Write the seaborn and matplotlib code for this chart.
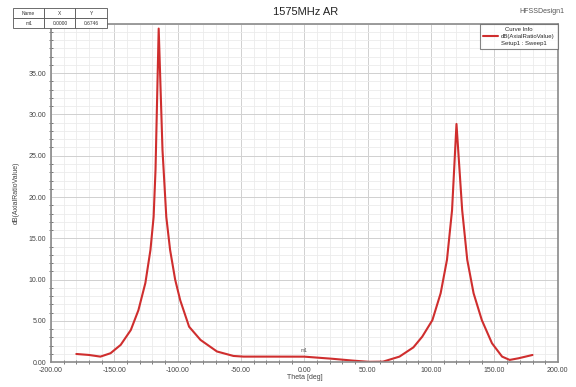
# 1575MHz axial ratio vs theta (HFSS style plot)

import matplotlib
matplotlib.use('Agg')
import matplotlib.pyplot as plt
from matplotlib.lines import Line2D
from matplotlib.ticker import MultipleLocator, FixedLocator, FormatStrFormatter
import pandas as pd
import seaborn as sns

# data
theta = [-180, -170, -161, -153, -145, -137, -131, -125.5, -121.5, -119, -117.5,
         -115, -112, -109, -106, -102, -98, -91, -82, -69, -56, -48, -30, 0,
         22, 38, 51, 62, 75, 86, 93, 101, 107.5, 112.5, 116.5, 120, 124.5,
         128.5, 133.5, 140, 148, 156, 162, 169, 180]
ar_db = [1.00, 0.88, 0.68, 1.09, 2.1, 3.9, 6.3, 9.6, 13.6, 17.6, 23.3,
         40.4, 25.7, 17.6, 13.6, 10.0, 7.5, 4.3, 2.7, 1.3, 0.76, 0.68, 0.68, 0.6746,
         0.42, 0.2, 0.05, 0.07, 0.68, 1.8, 3.1, 5.1, 8.35, 12.4, 18.4, 28.85, 18.4,
         12.4, 8.35, 5.1, 2.3, 0.68, 0.28, 0.48, 0.88]
y_ticks = [0, 5, 10, 15, 20, 25, 30, 35]
marker_name = 'm1'
marker_x = 0.0
marker_y = 0.6746

df = pd.DataFrame({'Theta': theta, 'AR': ar_db})

sns.set_style('white')
plt.rcParams['font.family'] = ['Liberation Sans', 'DejaVu Sans']

fig = plt.figure(figsize=(5.76, 3.87), dpi=100)
ax = fig.add_axes([0.0885, 0.064, 0.88, 0.875])

sns.lineplot(data=df, x='Theta', y='AR', estimator=None, color='#cf2e2e',
             linewidth=1.5, ax=ax)

ax.set_xlim(-200, 200)
ax.set_ylim(0, 41)
ax.xaxis.set_major_locator(MultipleLocator(50))
ax.xaxis.set_minor_locator(MultipleLocator(10))
ax.yaxis.set_major_locator(FixedLocator(y_ticks))
ax.yaxis.set_minor_locator(MultipleLocator(1))
ax.xaxis.set_major_formatter(FormatStrFormatter('%.2f'))
ax.yaxis.set_major_formatter(FormatStrFormatter('%.2f'))

ax.grid(which='major', color='#d0d0d0', linewidth=0.7)
ax.grid(which='minor', color='#ebebeb', linewidth=0.6)
ax.set_axisbelow(True)

for s in ax.spines.values():
    s.set_color('#8a8a8a')
    s.set_linewidth(1.2)

ax.tick_params(which='major', direction='inout', length=5, width=0.8,
               color='#666666', labelsize=5, labelcolor='#444444', pad=1)
ax.tick_params(which='minor', direction='inout', length=3, width=0.6,
               color='#666666', bottom=True, left=True)

ax.set_xlabel('Theta [deg]', fontsize=5, color='#444444', labelpad=0)
ax.set_ylabel('dB(AxialRatioValue)', fontsize=5, color='#444444', labelpad=6)

# marker label
ax.text(marker_x, marker_y + 0.4, marker_name, fontsize=3.5, color='#555555',
        ha='center', va='bottom')

# title and design name
fig.text(0.53, 0.968, '1575MHz AR', fontsize=8, ha='center', va='center',
         color='#222222')
fig.text(0.94, 0.97, 'HFSSDesign1', fontsize=5, ha='center', va='center',
         color='#555555')

# marker table
tbl = ax.table(cellText=[[marker_name, '%.4f' % marker_x, '%.4f' % marker_y]],
               colLabels=['Name', 'X', 'Y'],
               bbox=[-0.075, 0.987, 0.185, 0.059], cellLoc='center')
tbl.auto_set_font_size(False)
tbl.set_fontsize(3.5)
for cell in tbl.get_celld().values():
    cell.set_edgecolor('#555555')
    cell.set_linewidth(0.6)
    cell.set_facecolor('white')
    cell.get_text().set_color('#333333')
tbl.set_clip_on(False)
tbl.set_zorder(5)

# curve info box
handles = [Line2D([], [], color='#cf2e2e', linewidth=1.5),
           Line2D([], [], color='none')]
leg = ax.legend(handles, ['dB(AxialRatioValue)', 'Setup1 : Sweep1'],
                title='Curve Info', loc='upper right', fontsize=4.3,
                title_fontsize=4.3, frameon=True, fancybox=False,
                borderaxespad=0.0, handlelength=2.4, handletextpad=0.6,
                borderpad=0.5, labelspacing=0.35)
leg.get_frame().set_edgecolor('#666666')
leg.get_frame().set_linewidth(0.8)

fig.savefig('out.png', dpi=100)
